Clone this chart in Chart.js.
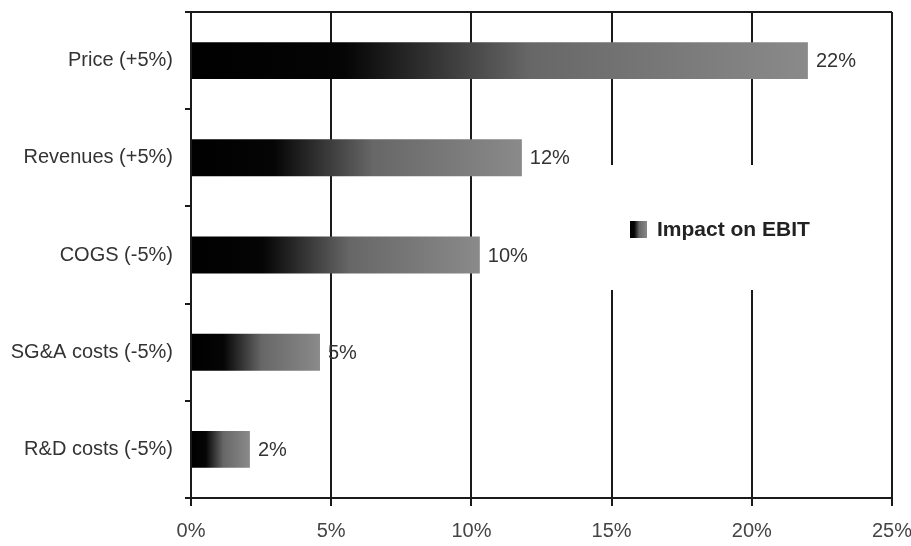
<!DOCTYPE html>
<html>
<head>
<meta charset="utf-8">
<script src="https://cdn.jsdelivr.net/npm/chart.js@4/dist/chart.umd.min.js"></script>
<style>
  html, body { margin: 0; padding: 0; background: #fff; }
  #wrap { width: 911px; height: 546px; }
</style>
</head>
<body>
<div id="wrap"><canvas id="ebitChart"></canvas></div>
<script>
// data
const categories = ['Price (+5%)', 'Revenues (+5%)', 'COGS (-5%)', 'SG&A costs (-5%)', 'R&D costs (-5%)'];
const impactValues = [22, 11.8, 10.3, 4.6, 2.1];
const valueLabels = ['22%', '12%', '10%', '5%', '2%'];
const xTicks = [0, 5, 10, 15, 20, 25];
const seriesName = 'Impact on EBIT';

const FONT = 'Arial, "Liberation Sans", sans-serif';

function barGradient(ctx, x0, x1) {
  const g = ctx.createLinearGradient(x0, 0, x1, 0);
  g.addColorStop(0, '#000000');
  g.addColorStop(0.25, '#050505');
  g.addColorStop(0.55, '#676767');
  g.addColorStop(1, '#8a8a8a');
  return g;
}

// frame line on top, value labels and the legend box
const extras = {
  id: 'extras',
  beforeDatasetsDraw(chart) {
    const { ctx, chartArea: a } = chart;
    ctx.save();
    ctx.strokeStyle = '#1a1a1a';
    ctx.lineWidth = 2;
    ctx.beginPath();
    ctx.moveTo(a.left, a.top);
    ctx.lineTo(a.right, a.top);
    ctx.stroke();
    ctx.restore();
  },
  afterDatasetsDraw(chart) {
    const { ctx, chartArea: a } = chart;
    const meta = chart.getDatasetMeta(0);
    ctx.save();
    ctx.font = '20px ' + FONT;
    ctx.fillStyle = '#333';
    ctx.textAlign = 'left';
    ctx.textBaseline = 'middle';
    meta.data.forEach((bar, i) => {
      ctx.fillText(valueLabels[i], bar.x + 8, bar.y + 1);
    });

    // legend box inside the plot
    const bx = a.left + 410, by = a.top + 153, bw = 234, bh = 125;
    ctx.fillStyle = '#fff';
    ctx.fillRect(bx, by, bw, bh);
    const sx = a.left + 439, sy = by + 56;
    ctx.fillStyle = barGradient(ctx, sx, sx + 17);
    ctx.fillRect(sx, sy, 17, 17);
    ctx.font = 'bold 21px ' + FONT;
    ctx.fillStyle = '#222';
    ctx.fillText(seriesName, sx + 27, sy + 9);
    ctx.restore();
  }
};

new Chart(document.getElementById('ebitChart'), {
  type: 'bar',
  data: {
    labels: categories,
    datasets: [{
      label: seriesName,
      data: impactValues,
      backgroundColor(c) {
        const chart = c.chart;
        if (!chart.chartArea || !chart.scales.x) return '#333';
        const x = chart.scales.x;
        return barGradient(chart.ctx, x.getPixelForValue(0), x.getPixelForValue(impactValues[c.dataIndex]));
      },
      borderWidth: 0,
      barPercentage: 0.38,
      categoryPercentage: 1
    }]
  },
  options: {
    indexAxis: 'y',
    responsive: true,
    maintainAspectRatio: false,
    animation: false,
    layout: { padding: { top: 12, right: 19, left: 0, bottom: 0 } },
    plugins: {
      legend: { display: false },
      tooltip: { enabled: false }
    },
    scales: {
      x: {
        min: 0,
        max: 25,
        afterBuildTicks(scale) {
          scale.ticks = xTicks.map(v => ({ value: v }));
        },
        afterFit(scale) {
          scale.height = 48;
          scale.paddingLeft = 0;
          scale.paddingRight = 0;
        },
        ticks: {
          callback: v => v + '%',
          color: '#444',
          padding: 13,
          maxRotation: 0,
          font: { family: FONT, size: 20 }
        },
        grid: {
          color: '#1a1a1a',
          lineWidth: 2,
          tickLength: 8,
          drawOnChartArea: true
        },
        border: { color: '#1a1a1a', width: 2 }
      },
      y: {
        afterFit(scale) {
          scale.width = 191;
          scale.paddingTop = 0;
          scale.paddingBottom = 0;
        },
        ticks: {
          color: '#333',
          padding: 12,
          font: { family: FONT, size: 20 }
        },
        grid: {
          offset: true,
          drawOnChartArea: false,
          color: '#1a1a1a',
          lineWidth: 2,
          tickLength: 6
        },
        border: { color: '#1a1a1a', width: 2 }
      }
    }
  },
  plugins: [extras]
});
</script>
</body>
</html>
